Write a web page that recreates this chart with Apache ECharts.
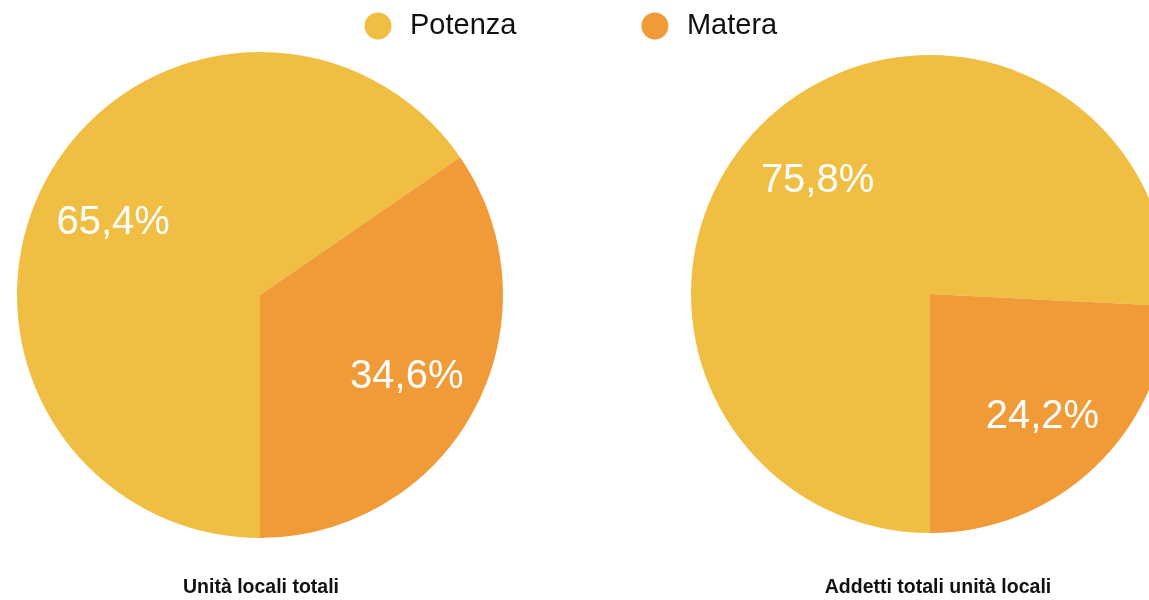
<!DOCTYPE html>
<html>
<head>
<meta charset="utf-8">
<script src="https://cdn.jsdelivr.net/npm/echarts@6/dist/echarts.min.js"></script>
<style>
html,body{margin:0;padding:0;background:#fff;}
#c{width:1149px;height:600px;}
</style>
</head>
<body>
<div id="c"></div>
<script>
const categories = ['Potenza', 'Matera'];
const unitaLocali = [65.4, 34.6];
const addetti = [75.8, 24.2];
const chartTitles = ['Unità locali totali', 'Addetti totali unità locali'];
const colors = ['#F0BE43', '#F09B38'];

const FONT = '"Liberation Sans", Arial, Helvetica, sans-serif';
const toData = vals => categories.map((n, i) => ({ name: n, value: vals[i] }));
const fmt = p => '{v|' + String(p.value).replace('.', ',') + '%}';

function basePie(vals, center, r) {
  return {
    type: 'pie',
    center: center,
    radius: [0, r],
    startAngle: 270,
    clockwise: true,
    data: toData(vals),
    label: { show: false },
    labelLine: { show: false },
    itemStyle: { borderWidth: 0 },
    emphasis: { disabled: true },
    silent: true,
    animation: false
  };
}
function labelPie(vals, center, r) {
  return {
    type: 'pie',
    center: center,
    radius: [r * 0.34, r],
    startAngle: 270,
    clockwise: true,
    data: toData(vals),
    itemStyle: { color: 'rgba(0,0,0,0)', borderWidth: 0 },
    label: {
      show: true, position: 'inside', formatter: fmt,
      color: '#fff', fontSize: 40, fontFamily: FONT,
      rich: {
        v: { color: '#fff', fontSize: 40, fontFamily: FONT, padding: [10, 0, 0, 0] }
      }
    },
    labelLine: { show: false },
    emphasis: { disabled: true },
    silent: true,
    z: 5,
    animation: false
  };
}

const chart = echarts.init(document.getElementById('c'), null, { renderer: 'canvas' });
chart.setOption({
  backgroundColor: '#fff',
  animation: false,
  color: colors,
  legend: {
    data: categories,
    left: 364.5,
    top: 11.5,
    padding: 0,
    icon: 'circle',
    itemWidth: 27,
    itemHeight: 27,
    itemGap: 125,
    textStyle: {
      fontSize: 29, color: '#111', fontFamily: FONT,
      lineHeight: 27, padding: [0, 0, 0, 13.5]
    },
    selectedMode: false
  },
  title: [
    { text: chartTitles[0], left: 261, top: 588, padding: 0, textAlign: 'center', textVerticalAlign: 'middle',
      textStyle: { fontSize: 19.5, fontWeight: 'bold', color: '#111', fontFamily: FONT } },
    { text: chartTitles[1], left: 938, top: 588, padding: 0, textAlign: 'center', textVerticalAlign: 'middle',
      textStyle: { fontSize: 19.5, fontWeight: 'bold', color: '#111', fontFamily: FONT } }
  ],
  series: [
    basePie(unitaLocali, [260, 295], 243),
    basePie(addetti, [930, 294], 239),
    labelPie(unitaLocali, [260, 295], 243),
    labelPie(addetti, [930, 294], 239)
  ]
});
</script>
</body>
</html>
